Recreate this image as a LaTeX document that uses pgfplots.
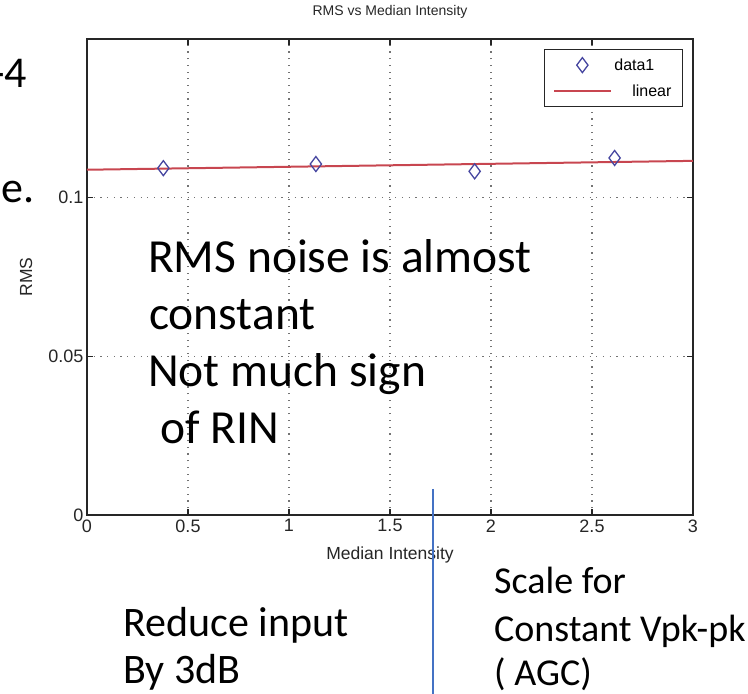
\documentclass[border=0pt]{standalone}
\usepackage{fontspec}
\usepackage{pgfplots}
\pgfplotsset{compat=1.18}
\newfontfamily\calfont{Carlito}
\newfontfamily\mf{Liberation Sans}
\definecolor{mblue}{RGB}{70,70,160}
\definecolor{mred}{RGB}{200,70,80}
\definecolor{oblue}{RGB}{68,114,196}
\pgfplotsset{
  mymarklegend/.style={legend image code/.code={\draw[mark repeat=2,mark phase=2,##1] plot coordinates {(0pt,0pt) (28pt,0pt) (57pt,0pt)};}},
  mylinelegend/.style={legend image code/.code={\draw[##1] (0pt,0pt) -- (57pt,0pt);}},
}
\begin{document}
\begin{tikzpicture}
\useasboundingbox (-87pt,-179pt) rectangle (661pt,515pt);
\begin{axis}[
  scale only axis, width=606pt, height=476pt,
  xmin=0, xmax=3, ymin=0, ymax=0.15,
  xtick={0,0.5,1,1.5,2,2.5,3},
  xticklabels={0,0.5,1,1.5,2,2.5,3},
  ytick={0,0.05,0.1},
  yticklabels={0,0.05,0.1},
  scaled ticks=false,
  tick label style={font=\mf\fontsize{18}{20}\selectfont, text=black!85},
  xticklabel style={yshift=-1pt},
  grid=major,
  major grid style={dash pattern=on 1.2pt off 5.5pt, black!55, line width=1.1pt},
  axis line style={line width=1.3pt, black!85},
  tick style={line width=1.2pt, black!85},
  major tick length=6pt,
  title={RMS vs Median Intensity},
  title style={font=\mf\fontsize{14}{16}\selectfont, text=black!85, at={(axis description cs:0.5,1)}, anchor=base, yshift=17pt},
  xlabel={Median Intensity},
  xlabel style={font=\mf\fontsize{17.5}{19}\selectfont, text=black!85, at={(axis description cs:0.5,0)}, anchor=center, yshift=-40pt},
  ylabel={RMS},
  ylabel style={font=\mf\fontsize{17.5}{19}\selectfont, text=black!85, at={(axis description cs:0,0.5)}, anchor=center, yshift=61pt},
  legend style={at={(rel axis cs:1,1)}, anchor=north east, xshift=-10pt, yshift=-10pt,
    draw=black!85, line width=1.2pt, font=\mf\fontsize{16}{19}\selectfont,
    inner xsep=9pt, inner ysep=7pt, row sep=9pt},
  legend cell align=right,
]
\addplot[only marks, mark=diamond, mark size=7.5pt, color=mblue, line width=1.3pt, mymarklegend]
  table[row sep=\\]{x y\\ 0.378 0.1093\\ 1.133 0.1106\\ 1.919 0.1083\\ 2.612 0.1125\\};
\addlegendentry{data1\hspace*{17pt}}
\addplot[color=mred, line width=2pt, no marks, mylinelegend]
  table[row sep=\\]{x y\\ 0 0.1088\\ 3 0.1116\\};
\addlegendentry{linear}
\end{axis}
% slide annotations
\begin{scope}[every node/.style={inner sep=0pt, text=black}]
\node[anchor=base east, font=\calfont\fontsize{44}{48}\selectfont] at (-60pt,427pt) {-4};
\node[anchor=base east, font=\calfont\fontsize{44}{48}\selectfont] at (-52pt,312pt) {e.};
\node[anchor=base west, font=\calfont\fontsize{47.5}{52}\selectfont] at (61pt,242pt) {RMS noise is almost};
\node[anchor=base west, font=\calfont\fontsize{47.5}{52}\selectfont] at (62pt,185pt) {constant};
\node[anchor=base west, font=\calfont\fontsize{47.5}{52}\selectfont] at (61pt,128pt) {Not much sign};
\node[anchor=base west, font=\calfont\fontsize{47.5}{52}\selectfont] at (73pt,71pt) {of RIN};
\node[anchor=base west, font=\calfont\fontsize{42}{46}\selectfont] at (36pt,-121pt) {Reduce input};
\node[anchor=base west, font=\calfont\fontsize{42}{46}\selectfont] at (36pt,-168pt) {By 3dB};
\node[anchor=base west, font=\calfont\fontsize{38}{42}\selectfont] at (407pt,-78pt) {Scale for};
\node[anchor=base west, font=\calfont\fontsize{38}{42}\selectfont] at (407pt,-126pt) {Constant Vpk-pk};
\node[anchor=base west, font=\calfont\fontsize{38}{42}\selectfont] at (407pt,-170pt) {( AGC)};
\end{scope}
\draw[oblue, line width=1.8pt] (346pt,26pt) -- (346pt,-185pt);
\end{tikzpicture}
\end{document}
